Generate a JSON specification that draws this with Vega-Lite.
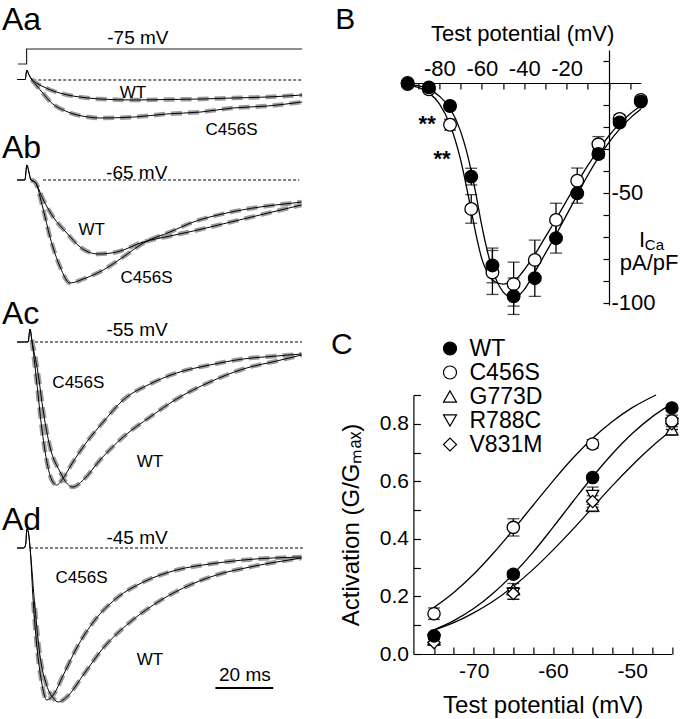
{
"$schema": "https://vega.github.io/schema/vega-lite/v6.json",
"padding": 0,
"background": "white",
"bounds": "flush",
"spacing": 403.4,
"config": {
  "font": "Liberation Sans",
  "view": {"stroke": null},
  "axis": {"domainColor": "black", "tickColor": "black", "labelColor": "black", "titleColor": "black", "domainWidth": 1.2, "tickWidth": 1.2, "grid": false, "labelFlush": false, "labelOverlap": false, "titleFontWeight": "normal", "labelFont": "Liberation Sans", "titleFont": "Liberation Sans"},
  "legend": {"labelFont": "Liberation Sans", "labelColor": "black"},
  "text": {"color": "black", "font": "Liberation Sans"}
},
"datasets": {
  "traces": [
    {"p":"Aa","g":"WT","t":-3.6,"I":0.5},{"p":"Aa","g":"WT","t":-0.8,"I":0.5},{"p":"Aa","g":"WT","t":-0.2,"I":10},{"p":"Aa","g":"WT","t":0.4,"I":6},{"p":"Aa","g":"WT","t":1.5,"I":1},{"p":"Aa","g":"WT","t":3,"I":-3},{"p":"Aa","g":"WT","t":5,"I":-6},{"p":"Aa","g":"WT","t":8,"I":-10},{"p":"Aa","g":"WT","t":14,"I":-15},{"p":"Aa","g":"WT","t":21,"I":-18},{"p":"Aa","g":"WT","t":25,"I":-19},{"p":"Aa","g":"WT","t":37,"I":-20},{"p":"Aa","g":"WT","t":48,"I":-19.5},{"p":"Aa","g":"WT","t":60,"I":-19},{"p":"Aa","g":"WT","t":71,"I":-18},{"p":"Aa","g":"WT","t":83,"I":-17},{"p":"Aa","g":"WT","t":95,"I":-15},
    {"p":"Aa","g":"C456S","t":-3.6,"I":0.5},{"p":"Aa","g":"C456S","t":-0.8,"I":0.5},{"p":"Aa","g":"C456S","t":-0.2,"I":10},{"p":"Aa","g":"C456S","t":0.4,"I":6},{"p":"Aa","g":"C456S","t":1.5,"I":0},{"p":"Aa","g":"C456S","t":3,"I":-5},{"p":"Aa","g":"C456S","t":5,"I":-12},{"p":"Aa","g":"C456S","t":8,"I":-22},{"p":"Aa","g":"C456S","t":14,"I":-32},{"p":"Aa","g":"C456S","t":21,"I":-37},{"p":"Aa","g":"C456S","t":25,"I":-38},{"p":"Aa","g":"C456S","t":37,"I":-37},{"p":"Aa","g":"C456S","t":48,"I":-34},{"p":"Aa","g":"C456S","t":60,"I":-32},{"p":"Aa","g":"C456S","t":71,"I":-28},{"p":"Aa","g":"C456S","t":83,"I":-26},{"p":"Aa","g":"C456S","t":95,"I":-22},
    {"p":"Ab","g":"WT","t":-3.6,"I":0},{"p":"Ab","g":"WT","t":-0.9,"I":0},{"p":"Ab","g":"WT","t":-0.2,"I":15},{"p":"Ab","g":"WT","t":0.5,"I":8},{"p":"Ab","g":"WT","t":1.2,"I":0},{"p":"Ab","g":"WT","t":2.6,"I":-2},{"p":"Ab","g":"WT","t":5.5,"I":-20},{"p":"Ab","g":"WT","t":8.9,"I":-37},{"p":"Ab","g":"WT","t":13.6,"I":-53},{"p":"Ab","g":"WT","t":18.2,"I":-67},{"p":"Ab","g":"WT","t":24.5,"I":-74},{"p":"Ab","g":"WT","t":30.9,"I":-72},{"p":"Ab","g":"WT","t":40.1,"I":-62},{"p":"Ab","g":"WT","t":49.3,"I":-56},{"p":"Ab","g":"WT","t":57.4,"I":-51},{"p":"Ab","g":"WT","t":68.9,"I":-43},{"p":"Ab","g":"WT","t":80.4,"I":-35},{"p":"Ab","g":"WT","t":91.9,"I":-27},{"p":"Ab","g":"WT","t":94.8,"I":-25},
    {"p":"Ab","g":"C456S","t":-3.6,"I":0},{"p":"Ab","g":"C456S","t":-0.9,"I":0},{"p":"Ab","g":"C456S","t":-0.2,"I":15},{"p":"Ab","g":"C456S","t":0.5,"I":8},{"p":"Ab","g":"C456S","t":1.2,"I":0},{"p":"Ab","g":"C456S","t":2.6,"I":-2},{"p":"Ab","g":"C456S","t":5.5,"I":-30},{"p":"Ab","g":"C456S","t":7.8,"I":-57},{"p":"Ab","g":"C456S","t":11.3,"I":-87},{"p":"Ab","g":"C456S","t":14.7,"I":-103},{"p":"Ab","g":"C456S","t":19.3,"I":-99},{"p":"Ab","g":"C456S","t":26.2,"I":-90},{"p":"Ab","g":"C456S","t":33.1,"I":-77},{"p":"Ab","g":"C456S","t":40.1,"I":-63},{"p":"Ab","g":"C456S","t":49.3,"I":-52},{"p":"Ab","g":"C456S","t":57.4,"I":-42},{"p":"Ab","g":"C456S","t":68.9,"I":-33},{"p":"Ab","g":"C456S","t":80.4,"I":-27},{"p":"Ab","g":"C456S","t":91.9,"I":-23},{"p":"Ab","g":"C456S","t":94.8,"I":-22},
    {"p":"Ac","g":"WT","t":-3.6,"I":0},{"p":"Ac","g":"WT","t":-0.9,"I":0},{"p":"Ac","g":"WT","t":0.2,"I":0},{"p":"Ac","g":"WT","t":0.9,"I":13},{"p":"Ac","g":"WT","t":1.5,"I":2},{"p":"Ac","g":"WT","t":3.6,"I":-30},{"p":"Ac","g":"WT","t":5.5,"I":-70},{"p":"Ac","g":"WT","t":7.8,"I":-105},{"p":"Ac","g":"WT","t":11.3,"I":-130},{"p":"Ac","g":"WT","t":13.8,"I":-142},{"p":"Ac","g":"WT","t":15.7,"I":-145},{"p":"Ac","g":"WT","t":19.3,"I":-138},{"p":"Ac","g":"WT","t":25.1,"I":-118},{"p":"Ac","g":"WT","t":33.1,"I":-95},{"p":"Ac","g":"WT","t":42.4,"I":-75},{"p":"Ac","g":"WT","t":51.6,"I":-57},{"p":"Ac","g":"WT","t":63.1,"I":-40},{"p":"Ac","g":"WT","t":74.6,"I":-27},{"p":"Ac","g":"WT","t":86.2,"I":-19},{"p":"Ac","g":"WT","t":94.8,"I":-13},
    {"p":"Ac","g":"C456S","t":-3.6,"I":0},{"p":"Ac","g":"C456S","t":-0.9,"I":0},{"p":"Ac","g":"C456S","t":0.2,"I":0},{"p":"Ac","g":"C456S","t":0.9,"I":13},{"p":"Ac","g":"C456S","t":1.5,"I":2},{"p":"Ac","g":"C456S","t":3.2,"I":-40},{"p":"Ac","g":"C456S","t":4.9,"I":-85},{"p":"Ac","g":"C456S","t":6.6,"I":-118},{"p":"Ac","g":"C456S","t":8.4,"I":-138},{"p":"Ac","g":"C456S","t":10.1,"I":-143},{"p":"Ac","g":"C456S","t":12.4,"I":-136},{"p":"Ac","g":"C456S","t":15.3,"I":-122},{"p":"Ac","g":"C456S","t":20.5,"I":-100},{"p":"Ac","g":"C456S","t":26.2,"I":-80},{"p":"Ac","g":"C456S","t":33.1,"I":-58},{"p":"Ac","g":"C456S","t":42.4,"I":-42},{"p":"Ac","g":"C456S","t":51.6,"I":-31},{"p":"Ac","g":"C456S","t":63.1,"I":-23},{"p":"Ac","g":"C456S","t":74.6,"I":-17},{"p":"Ac","g":"C456S","t":86.2,"I":-14},{"p":"Ac","g":"C456S","t":94.8,"I":-12},
    {"p":"Ad","g":"WT","t":-3.6,"I":0},{"p":"Ad","g":"WT","t":-1.2,"I":0},{"p":"Ad","g":"WT","t":-0.6,"I":4},{"p":"Ad","g":"WT","t":-0.2,"I":19},{"p":"Ad","g":"WT","t":0.3,"I":16},{"p":"Ad","g":"WT","t":0.9,"I":0},{"p":"Ad","g":"WT","t":2.6,"I":-60},{"p":"Ad","g":"WT","t":4.3,"I":-107},{"p":"Ad","g":"WT","t":6.6,"I":-137},{"p":"Ad","g":"WT","t":8.9,"I":-150},{"p":"Ad","g":"WT","t":10.7,"I":-154},{"p":"Ad","g":"WT","t":13.6,"I":-149},{"p":"Ad","g":"WT","t":19.3,"I":-127},{"p":"Ad","g":"WT","t":26.2,"I":-100},{"p":"Ad","g":"WT","t":34.3,"I":-77},{"p":"Ad","g":"WT","t":43.5,"I":-57},{"p":"Ad","g":"WT","t":53.9,"I":-40},{"p":"Ad","g":"WT","t":65.4,"I":-27},{"p":"Ad","g":"WT","t":77,"I":-19},{"p":"Ad","g":"WT","t":94.8,"I":-10},
    {"p":"Ad","g":"C456S","t":-3.6,"I":0},{"p":"Ad","g":"C456S","t":-1.2,"I":0},{"p":"Ad","g":"C456S","t":-0.6,"I":4},{"p":"Ad","g":"C456S","t":-0.2,"I":19},{"p":"Ad","g":"C456S","t":0.3,"I":16},{"p":"Ad","g":"C456S","t":0.9,"I":0},{"p":"Ad","g":"C456S","t":2,"I":-54},{"p":"Ad","g":"C456S","t":3.2,"I":-97},{"p":"Ad","g":"C456S","t":4.9,"I":-134},{"p":"Ad","g":"C456S","t":6.6,"I":-152},{"p":"Ad","g":"C456S","t":8.9,"I":-147},{"p":"Ad","g":"C456S","t":12.4,"I":-127},{"p":"Ad","g":"C456S","t":17,"I":-100},{"p":"Ad","g":"C456S","t":22.8,"I":-74},{"p":"Ad","g":"C456S","t":30.9,"I":-50},{"p":"Ad","g":"C456S","t":40.1,"I":-34},{"p":"Ad","g":"C456S","t":51.6,"I":-22},{"p":"Ad","g":"C456S","t":63.1,"I":-16},{"p":"Ad","g":"C456S","t":74.6,"I":-12},{"p":"Ad","g":"C456S","t":94.8,"I":-9}
  ],
  "labels": [
    {"p":"Aa","k":"P","s":"Aa","t":-8.8,"I":50},{"p":"Aa","k":"v","s":"-75 mV","t":38.2,"I":42},{"p":"Aa","k":"g","s":"WT","t":36.5,"I":-13},{"p":"Aa","k":"g","s":"C456S","t":70.6,"I":-50},
    {"p":"Ab","k":"P","s":"Ab","t":-8.8,"I":22},{"p":"Ab","k":"v","s":"-65 mV","t":37.8,"I":7},{"p":"Ab","k":"g","s":"WT","t":22.2,"I":-50},{"p":"Ab","k":"g","s":"C456S","t":41.2,"I":-98},
    {"p":"Ac","k":"P","s":"Ac","t":-8.8,"I":18},{"p":"Ac","k":"v","s":"-55 mV","t":37.9,"I":12},{"p":"Ac","k":"g","s":"C456S","t":17.6,"I":-41},{"p":"Ac","k":"g","s":"WT","t":42.4,"I":-120},
    {"p":"Ad","k":"P","s":"Ad","t":-8.8,"I":18},{"p":"Ad","k":"v","s":"-45 mV","t":37.9,"I":10},{"p":"Ad","k":"g","s":"C456S","t":18.7,"I":-30},{"p":"Ad","k":"g","s":"WT","t":42.4,"I":-112},{"p":"Ad","k":"v","s":"20 ms","t":75.2,"I":-127}
  ],
  "ivB": [
    {"g":"C456S","V":-95,"I":-0.5,"e":0.5},{"g":"C456S","V":-85,"I":-2.9,"e":1},{"g":"C456S","V":-75,"I":-19,"e":2.5},{"g":"C456S","V":-65,"I":-57.3,"e":6.5},{"g":"C456S","V":-55,"I":-86.2,"e":10},{"g":"C456S","V":-45,"I":-91.5,"e":10},{"g":"C456S","V":-35,"I":-80.5,"e":9},{"g":"C456S","V":-25,"I":-62.3,"e":7.6},{"g":"C456S","V":-15,"I":-44.5,"e":5.8},{"g":"C456S","V":-5,"I":-27.9,"e":3.5},{"g":"C456S","V":5,"I":-16.4,"e":2},{"g":"C456S","V":15,"I":-7.7,"e":1.5},
    {"g":"WT","V":-95,"I":0,"e":0},{"g":"WT","V":-85,"I":-2,"e":0.5},{"g":"WT","V":-75,"I":-10.5,"e":1.5},{"g":"WT","V":-65,"I":-42.6,"e":3.8},{"g":"WT","V":-55,"I":-83,"e":7.9},{"g":"WT","V":-45,"I":-97,"e":8.3},{"g":"WT","V":-35,"I":-88.8,"e":8.3},{"g":"WT","V":-25,"I":-70.6,"e":6.8},{"g":"WT","V":-15,"I":-50.2,"e":4.5},{"g":"WT","V":-5,"I":-32.3,"e":2},{"g":"WT","V":5,"I":-18,"e":1.5},{"g":"WT","V":15,"I":-8.5,"e":1}
  ],
  "fitB": [
    {"g":"WT","V":-97,"I":-0.3},{"g":"WT","V":-95,"I":-0.5},{"g":"WT","V":-90,"I":-1.2},{"g":"WT","V":-85,"I":-2.8},{"g":"WT","V":-80,"I":-6},{"g":"WT","V":-75,"I":-11.5},{"g":"WT","V":-70,"I":-22},{"g":"WT","V":-67.5,"I":-30},{"g":"WT","V":-65,"I":-40},{"g":"WT","V":-62.5,"I":-52},{"g":"WT","V":-60,"I":-65},{"g":"WT","V":-57.5,"I":-76},{"g":"WT","V":-55,"I":-85},{"g":"WT","V":-52.5,"I":-91},{"g":"WT","V":-50,"I":-95},{"g":"WT","V":-47.5,"I":-97},{"g":"WT","V":-45,"I":-97.5},{"g":"WT","V":-42.5,"I":-96.5},{"g":"WT","V":-40,"I":-94},{"g":"WT","V":-35,"I":-86},{"g":"WT","V":-30,"I":-77.5},{"g":"WT","V":-25,"I":-69},{"g":"WT","V":-20,"I":-60},{"g":"WT","V":-15,"I":-51},{"g":"WT","V":-10,"I":-42},{"g":"WT","V":-5,"I":-34},{"g":"WT","V":0,"I":-27},{"g":"WT","V":5,"I":-21},{"g":"WT","V":10,"I":-16},{"g":"WT","V":15,"I":-12},
    {"g":"C456S","V":-97,"I":-0.6},{"g":"C456S","V":-95,"I":-1},{"g":"C456S","V":-90,"I":-2},{"g":"C456S","V":-85,"I":-4.5},{"g":"C456S","V":-80,"I":-9.5},{"g":"C456S","V":-75,"I":-19},{"g":"C456S","V":-70,"I":-35},{"g":"C456S","V":-67.5,"I":-46},{"g":"C456S","V":-65,"I":-58},{"g":"C456S","V":-62.5,"I":-70},{"g":"C456S","V":-60,"I":-80},{"g":"C456S","V":-57.5,"I":-86},{"g":"C456S","V":-55,"I":-89.5},{"g":"C456S","V":-52.5,"I":-91},{"g":"C456S","V":-50,"I":-91.5},{"g":"C456S","V":-47.5,"I":-91},{"g":"C456S","V":-45,"I":-90},{"g":"C456S","V":-42.5,"I":-88},{"g":"C456S","V":-40,"I":-85},{"g":"C456S","V":-35,"I":-78},{"g":"C456S","V":-30,"I":-70},{"g":"C456S","V":-25,"I":-62},{"g":"C456S","V":-20,"I":-53.5},{"g":"C456S","V":-15,"I":-45.5},{"g":"C456S","V":-10,"I":-37.5},{"g":"C456S","V":-5,"I":-30.5},{"g":"C456S","V":0,"I":-24},{"g":"C456S","V":5,"I":-18.5},{"g":"C456S","V":10,"I":-14},{"g":"C456S","V":15,"I":-10.5}
  ],
  "actC": [
    {"g":"G773D","V":-75,"a":0.05,"e":0.01},{"g":"G773D","V":-65,"a":0.225,"e":0.02},{"g":"G773D","V":-55,"a":0.515,"e":0.02},{"g":"G773D","V":-45,"a":0.78,"e":0.02},
    {"g":"R788C","V":-75,"a":0.05,"e":0.01},{"g":"R788C","V":-65,"a":0.21,"e":0.02},{"g":"R788C","V":-55,"a":0.55,"e":0.03},{"g":"R788C","V":-45,"a":0.8,"e":0.02},
    {"g":"V831M","V":-75,"a":0.04,"e":0.01},{"g":"V831M","V":-65,"a":0.21,"e":0.02},{"g":"V831M","V":-55,"a":0.53,"e":0.02},{"g":"V831M","V":-45,"a":0.8,"e":0.02},
    {"g":"C456S","V":-75,"a":0.14,"e":0.02},{"g":"C456S","V":-65,"a":0.44,"e":0.03},{"g":"C456S","V":-55,"a":0.73,"e":0.015},{"g":"C456S","V":-45,"a":0.81,"e":0.02},
    {"g":"WT","V":-75,"a":0.063,"e":0.01},{"g":"WT","V":-65,"a":0.277,"e":0.012},{"g":"WT","V":-55,"a":0.613,"e":0.01},{"g":"WT","V":-45,"a":0.855,"e":0.01}
  ],
  "fitC": [
    {"c":"WT","V":-75,"a":0.084},{"c":"WT","V":-72.5,"a":0.116},{"c":"WT","V":-70,"a":0.158},{"c":"WT","V":-67.5,"a":0.212},{"c":"WT","V":-65,"a":0.278},{"c":"WT","V":-62.5,"a":0.354},{"c":"WT","V":-60,"a":0.44},{"c":"WT","V":-57.5,"a":0.529},{"c":"WT","V":-55,"a":0.616},{"c":"WT","V":-52.5,"a":0.696},{"c":"WT","V":-50,"a":0.766},{"c":"WT","V":-47.5,"a":0.824},{"c":"WT","V":-45,"a":0.87},
    {"c":"mut","V":-75,"a":0.083},{"c":"mut","V":-72.5,"a":0.109},{"c":"mut","V":-70,"a":0.143},{"c":"mut","V":-67.5,"a":0.184},{"c":"mut","V":-65,"a":0.235},{"c":"mut","V":-62.5,"a":0.294},{"c":"mut","V":-60,"a":0.361},{"c":"mut","V":-57.5,"a":0.433},{"c":"mut","V":-55,"a":0.509},{"c":"mut","V":-52.5,"a":0.585},{"c":"mut","V":-50,"a":0.656},{"c":"mut","V":-47.5,"a":0.721},{"c":"mut","V":-45,"a":0.778},
    {"c":"C456S","V":-75,"a":0.162},{"c":"C456S","V":-72.5,"a":0.214},{"c":"C456S","V":-70,"a":0.277},{"c":"C456S","V":-67.5,"a":0.351},{"c":"C456S","V":-65,"a":0.432},{"c":"C456S","V":-62.5,"a":0.517},{"c":"C456S","V":-60,"a":0.601},{"c":"C456S","V":-57.5,"a":0.68},{"c":"C456S","V":-55,"a":0.75},{"c":"C456S","V":-52.5,"a":0.808},{"c":"C456S","V":-50,"a":0.856},{"c":"C456S","V":-47,"a":0.9}
  ]
},
"resolve": {"scale": {"x": "independent", "y": "independent"}},
"hconcat": [
  {
    "bounds": "flush",
    "spacing": 0,
    "resolve": {"scale": {"x": "independent", "y": "independent"}},
    "vconcat": [
      {
        "width": 305, "height": 140,
        "encoding": {
          "x": {"field": "t", "type": "quantitative", "scale": {"domain": [-9.5, 96], "nice": false, "zero": false}, "axis": null},
          "y": {"field": "I", "type": "quantitative", "scale": {"domain": [-60, 80], "nice": false, "zero": false}, "axis": null}
        },
        "layer": [
          {"data": {"values": [{"t": 2, "t2": 95, "I": 0}]}, "mark": {"type": "rule", "color": "black", "strokeWidth": 1, "strokeDash": [3, 2]}, "encoding": {"x2": {"field": "t2"}}},
          {"data": {"values": [{"t": -3.3, "I": 16, "o": 1}, {"t": -0.3, "I": 16, "o": 2}, {"t": -0.3, "I": 31, "o": 3}, {"t": 95, "I": 31, "o": 4}]}, "mark": {"type": "line", "color": "#222", "strokeWidth": 1.2}, "encoding": {"order": {"field": "o", "type": "quantitative"}}},
          {"data": {"name": "traces"}, "transform": [{"filter": "datum.p == 'Aa' && datum.t >= 1.2"}], "mark": {"type": "line", "color": "#9c9c9c", "strokeWidth": 4.5, "strokeDash": [11, 6], "interpolate": "monotone"}, "encoding": {"detail": {"field": "g"}}},
          {"data": {"name": "traces"}, "transform": [{"filter": "datum.p == 'Aa'"}], "mark": {"type": "line", "color": "black", "strokeWidth": 1, "interpolate": "monotone"}, "encoding": {"detail": {"field": "g"}}},
          {"data": {"name": "labels"}, "transform": [{"filter": "datum.p == 'Aa' && datum.k == 'P'"}], "mark": {"type": "text", "fontSize": 32, "align": "left", "baseline": "alphabetic"}, "encoding": {"text": {"field": "s"}}},
          {"data": {"name": "labels"}, "transform": [{"filter": "datum.p == 'Aa' && datum.k == 'v'"}], "mark": {"type": "text", "fontSize": 19, "align": "center", "baseline": "middle"}, "encoding": {"text": {"field": "s"}}},
          {"data": {"name": "labels"}, "transform": [{"filter": "datum.p == 'Aa' && datum.k == 'g'"}], "mark": {"type": "text", "fontSize": 17, "align": "center", "baseline": "middle"}, "encoding": {"text": {"field": "s"}}}
        ]
      },
      {
        "width": 305, "height": 155,
        "encoding": {
          "x": {"field": "t", "type": "quantitative", "scale": {"domain": [-9.5, 96], "nice": false, "zero": false}, "axis": null},
          "y": {"field": "I", "type": "quantitative", "scale": {"domain": [-115, 40], "nice": false, "zero": false}, "axis": null}
        },
        "layer": [
          {"data": {"values": [{"t": 5.4, "t2": 94, "I": 0}]}, "mark": {"type": "rule", "color": "black", "strokeWidth": 1, "strokeDash": [3, 2]}, "encoding": {"x2": {"field": "t2"}}},
          {"data": {"name": "traces"}, "transform": [{"filter": "datum.p == 'Ab' && datum.t >= 1.2"}], "mark": {"type": "line", "color": "#9c9c9c", "strokeWidth": 4.5, "strokeDash": [11, 6], "interpolate": "monotone"}, "encoding": {"detail": {"field": "g"}}},
          {"data": {"name": "traces"}, "transform": [{"filter": "datum.p == 'Ab'"}], "mark": {"type": "line", "color": "black", "strokeWidth": 1, "interpolate": "monotone"}, "encoding": {"detail": {"field": "g"}}},
          {"data": {"name": "labels"}, "transform": [{"filter": "datum.p == 'Ab' && datum.k == 'P'"}], "mark": {"type": "text", "fontSize": 32, "align": "left", "baseline": "alphabetic"}, "encoding": {"text": {"field": "s"}}},
          {"data": {"name": "labels"}, "transform": [{"filter": "datum.p == 'Ab' && datum.k == 'v'"}], "mark": {"type": "text", "fontSize": 19, "align": "center", "baseline": "middle"}, "encoding": {"text": {"field": "s"}}},
          {"data": {"name": "labels"}, "transform": [{"filter": "datum.p == 'Ab' && datum.k == 'g'"}], "mark": {"type": "text", "fontSize": 17, "align": "center", "baseline": "middle"}, "encoding": {"text": {"field": "s"}}}
        ]
      },
      {
        "width": 305, "height": 218,
        "encoding": {
          "x": {"field": "t", "type": "quantitative", "scale": {"domain": [-9.5, 96], "nice": false, "zero": false}, "axis": null},
          "y": {"field": "I", "type": "quantitative", "scale": {"domain": [-171, 47], "nice": false, "zero": false}, "axis": null}
        },
        "layer": [
          {"data": {"values": [{"t": 2.6, "t2": 95, "I": 0}]}, "mark": {"type": "rule", "color": "black", "strokeWidth": 1, "strokeDash": [3, 2]}, "encoding": {"x2": {"field": "t2"}}},
          {"data": {"name": "traces"}, "transform": [{"filter": "datum.p == 'Ac' && datum.t >= 1.2"}], "mark": {"type": "line", "color": "#9c9c9c", "strokeWidth": 4.5, "strokeDash": [11, 6], "interpolate": "monotone"}, "encoding": {"detail": {"field": "g"}}},
          {"data": {"name": "traces"}, "transform": [{"filter": "datum.p == 'Ac'"}], "mark": {"type": "line", "color": "black", "strokeWidth": 1, "interpolate": "monotone"}, "encoding": {"detail": {"field": "g"}}},
          {"data": {"name": "labels"}, "transform": [{"filter": "datum.p == 'Ac' && datum.k == 'P'"}], "mark": {"type": "text", "fontSize": 32, "align": "left", "baseline": "alphabetic"}, "encoding": {"text": {"field": "s"}}},
          {"data": {"name": "labels"}, "transform": [{"filter": "datum.p == 'Ac' && datum.k == 'v'"}], "mark": {"type": "text", "fontSize": 19, "align": "center", "baseline": "middle"}, "encoding": {"text": {"field": "s"}}},
          {"data": {"name": "labels"}, "transform": [{"filter": "datum.p == 'Ac' && datum.k == 'g'"}], "mark": {"type": "text", "fontSize": 17, "align": "center", "baseline": "middle"}, "encoding": {"text": {"field": "s"}}}
        ]
      },
      {
        "width": 305, "height": 206,
        "encoding": {
          "x": {"field": "t", "type": "quantitative", "scale": {"domain": [-9.5, 96], "nice": false, "zero": false}, "axis": null},
          "y": {"field": "I", "type": "quantitative", "scale": {"domain": [-171, 35], "nice": false, "zero": false}, "axis": null}
        },
        "layer": [
          {"data": {"values": [{"t": 0.9, "t2": 95.3, "I": 0}]}, "mark": {"type": "rule", "color": "black", "strokeWidth": 1, "strokeDash": [3, 2]}, "encoding": {"x2": {"field": "t2"}}},
          {"data": {"values": [{"t": 65, "t2": 85, "I": -140}]}, "mark": {"type": "rule", "color": "black", "strokeWidth": 2}, "encoding": {"x2": {"field": "t2"}}},
          {"data": {"name": "traces"}, "transform": [{"filter": "datum.p == 'Ad' && datum.t >= 1.2"}], "mark": {"type": "line", "color": "#9c9c9c", "strokeWidth": 4.5, "strokeDash": [11, 6], "interpolate": "monotone"}, "encoding": {"detail": {"field": "g"}}},
          {"data": {"name": "traces"}, "transform": [{"filter": "datum.p == 'Ad'"}], "mark": {"type": "line", "color": "black", "strokeWidth": 1, "interpolate": "monotone"}, "encoding": {"detail": {"field": "g"}}},
          {"data": {"name": "labels"}, "transform": [{"filter": "datum.p == 'Ad' && datum.k == 'P'"}], "mark": {"type": "text", "fontSize": 32, "align": "left", "baseline": "alphabetic"}, "encoding": {"text": {"field": "s"}}},
          {"data": {"name": "labels"}, "transform": [{"filter": "datum.p == 'Ad' && datum.k == 'v'"}], "mark": {"type": "text", "fontSize": 19, "align": "center", "baseline": "middle"}, "encoding": {"text": {"field": "s"}}},
          {"data": {"name": "labels"}, "transform": [{"filter": "datum.p == 'Ad' && datum.k == 'g'"}], "mark": {"type": "text", "fontSize": 17, "align": "center", "baseline": "middle"}, "encoding": {"text": {"field": "s"}}}
        ]
      }
    ]
  },
  {
    "bounds": "flush",
    "spacing": 0,
    "resolve": {"scale": {"x": "independent", "y": "independent"}},
    "vconcat": [
      {"width": 237.4, "height": 50, "data": {"values": [{}]}, "mark": {"type": "text", "text": ""}, "encoding": {}},
      {
        "width": 237.4, "height": 255,
        "encoding": {
          "x": {"field": "V", "type": "quantitative", "scale": {"domain": [-97, 15], "nice": false, "zero": false},
                "axis": {"orient": "top", "offset": -33, "values": [-90, -80, -70, -60, -50, -40, -30, -20, -10, 0, 10], "labelExpr": "indexof([-80, -60, -40, -20], datum.value) >= 0 ? toString(datum.value) : ''", "tickSize": -6, "labelPadding": 9, "labelFontSize": 22, "title": "Test potential (mV)", "titleFontSize": 22, "titlePadding": 12}},
          "y": {"field": "I", "type": "quantitative", "scale": {"domain": [-101, 15], "nice": false, "zero": false},
                "axis": {"orient": "right", "offset": -31.8, "values": [-100, -90, -80, -70, -60, -50, -40, -30, -20, -10, 0, 10], "labelExpr": "datum.value == -50 || datum.value == -100 ? toString(datum.value) : ''", "tickSize": -6, "labelPadding": 8, "labelFontSize": 22, "title": null}}
        },
        "layer": [
          {"data": {"name": "fitB"}, "mark": {"type": "line", "color": "black", "strokeWidth": 1.3, "interpolate": "monotone"}, "encoding": {"detail": {"field": "g"}}},
          {"data": {"name": "ivB"}, "mark": {"type": "errorbar", "color": "black", "ticks": {"size": 12, "thickness": 1.3}, "rule": {"strokeWidth": 1.3}}, "encoding": {"yError": {"field": "e"}}},
          {"data": {"name": "ivB"}, "transform": [{"filter": "datum.g == 'C456S'"}], "mark": {"type": "point", "shape": "circle", "size": 160, "filled": true, "fill": "white", "stroke": "black", "strokeWidth": 1.3, "opacity": 1}},
          {"data": {"name": "ivB"}, "transform": [{"filter": "datum.g == 'WT'"}], "mark": {"type": "point", "shape": "circle", "size": 160, "filled": true, "fill": "black", "stroke": "black", "strokeWidth": 1.3, "opacity": 1}},
          {"data": {"values": [{"V": -85.8, "I": -18.6, "s": "**"}, {"V": -78.8, "I": -34.5, "s": "**"}]}, "mark": {"type": "text", "fontSize": 22, "fontWeight": "bold", "align": "center", "baseline": "middle"}, "encoding": {"text": {"field": "s"}}},
          {"data": {"values": [{"V": -129.2, "I": 24.5, "s": "B"}]}, "mark": {"type": "text", "fontSize": 30, "align": "left", "baseline": "alphabetic"}, "encoding": {"text": {"field": "s"}}},
          {"data": {"values": [{"V": 14.2, "I": -74.6, "s": "I"}]}, "mark": {"type": "text", "fontSize": 22, "align": "left", "baseline": "alphabetic"}, "encoding": {"text": {"field": "s"}}},
          {"data": {"values": [{"V": 16.9, "I": -76, "s": "Ca"}]}, "mark": {"type": "text", "fontSize": 15, "align": "left", "baseline": "alphabetic"}, "encoding": {"text": {"field": "s"}}},
          {"data": {"values": [{"V": 18.9, "I": -85, "s": "pA/pF"}]}, "mark": {"type": "text", "fontSize": 22, "align": "center", "baseline": "alphabetic"}, "encoding": {"text": {"field": "s"}}}
        ]
      },
      {"width": 237.4, "height": 90, "data": {"values": [{}]}, "mark": {"type": "text", "text": ""}, "encoding": {}},
      {
        "bounds": "flush",
        "spacing": 0,
        "resolve": {"scale": {"x": "independent", "y": "independent"}},
        "hconcat": [
          {"width": 10, "height": 259, "data": {"values": [{}]}, "mark": {"type": "text", "text": ""}, "encoding": {}},
          {
            "width": 258.5, "height": 259,
            "encoding": {
              "x": {"field": "V", "type": "quantitative", "scale": {"domain": [-77.6, -45], "nice": false, "zero": false},
                    "axis": {"orient": "bottom", "values": [-75, -72.5, -70, -67.5, -65, -62.5, -60, -57.5, -55, -52.5, -50, -47.5, -45], "labelExpr": "datum.value == -70 || datum.value == -60 || datum.value == -50 ? toString(datum.value) : ''", "tickSize": -7, "labelPadding": 13, "labelFontSize": 21, "title": "Test potential (mV)", "titleFontSize": 24, "titlePadding": 12}},
              "y": {"field": "a", "type": "quantitative", "scale": {"domain": [0, 0.9], "nice": false, "zero": false},
                    "axis": {"orient": "left", "values": [0, 0.1, 0.2, 0.3, 0.4, 0.5, 0.6, 0.7, 0.8, 0.9], "labelExpr": "round(datum.value * 10) % 2 == 0 ? format(datum.value, '.1f') : ''", "tickSize": -7, "labelPadding": 12, "labelFontSize": 21, "title": "Activation (G/Gₘₐₓ)", "titleFontSize": 24, "titlePadding": 16}}
            },
            "layer": [
              {"data": {"name": "fitC"}, "mark": {"type": "line", "color": "black", "strokeWidth": 1.3, "interpolate": "monotone"}, "encoding": {"detail": {"field": "c"}}},
              {"data": {"name": "actC"}, "mark": {"type": "errorbar", "color": "black", "ticks": {"size": 12, "thickness": 1.3}, "rule": {"strokeWidth": 1.3}}, "encoding": {"yError": {"field": "e"}}},
              {"data": {"name": "actC"}, "mark": {"type": "point", "size": 150, "filled": true, "strokeWidth": 1.3, "opacity": 1},
               "encoding": {
                 "shape": {"field": "g", "type": "nominal", "scale": {"domain": ["WT", "C456S", "G773D", "R788C", "V831M"], "range": ["circle", "circle", "triangle-up", "triangle-down", "diamond"]},
                           "legend": {"orient": "none", "legendX": 438.5, "legendY": 337, "title": null, "labelFontSize": 23, "symbolSize": 170, "symbolStrokeWidth": 1.2, "rowPadding": 0, "labelOffset": 8, "padding": 0, "symbolOffset": 0}},
                 "fill": {"field": "g", "type": "nominal", "scale": {"domain": ["WT", "C456S", "G773D", "R788C", "V831M"], "range": ["black", "white", "white", "white", "white"]},
                           "legend": {"orient": "none", "legendX": 438.5, "legendY": 337, "title": null, "labelFontSize": 23, "symbolSize": 170, "symbolStrokeWidth": 1.2, "rowPadding": 0, "labelOffset": 8, "padding": 0, "symbolOffset": 0}},
                 "stroke": {"field": "g", "type": "nominal", "scale": {"domain": ["WT", "C456S", "G773D", "R788C", "V831M"], "range": ["black", "black", "black", "black", "black"]},
                           "legend": {"orient": "none", "legendX": 438.5, "legendY": 337, "title": null, "labelFontSize": 23, "symbolSize": 170, "symbolStrokeWidth": 1.2, "rowPadding": 0, "labelOffset": 8, "padding": 0, "symbolOffset": 0}}
               }},
              {"data": {"values": [{"V": -88.0, "a": 1.043, "s": "C"}]}, "mark": {"type": "text", "fontSize": 30, "align": "left", "baseline": "alphabetic"}, "encoding": {"text": {"field": "s"}}}
            ]
          }
        ]
      }
    ]
  }
]
}
